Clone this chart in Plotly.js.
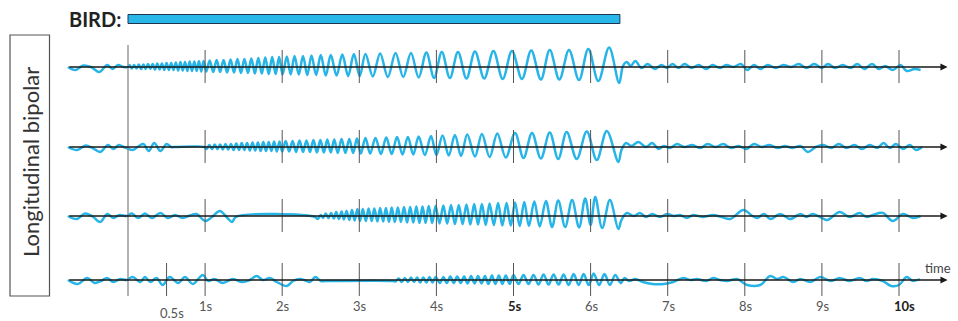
<!DOCTYPE html>
<html>
<head>
<meta charset="utf-8">
<script src="https://cdn.plot.ly/plotly-3.0.1.min.js"></script>
<style>
html,body{margin:0;padding:0;background:#ffffff;}
#chart{width:958px;height:321px;}
</style>
</head>
<body>
<div id="chart"></div>
<script>
// ---------------- DATA ----------------
// Each channel: times of the waveform's turning points (s) and the amplitude there (arbitrary units, + = up)

// Channel 1 : onset at 0 s
const row1T = [
  -0.78,-0.68,-0.58,-0.48,-0.37,-0.27,-0.2,-0.13,-0.06,0.0,
  0.02,0.05,0.08,0.11,0.14,0.17,0.2,0.23,0.26,0.29,0.32,0.35,0.38,0.41,0.44,0.47,0.5,0.53,0.56,0.59,0.62,0.65,0.68,0.71,0.74,0.77,0.8,0.83,0.86,0.89,0.92,0.95,0.98,
  1.015,1.06,1.105,1.15,1.195,1.24,1.285,1.33,1.375,1.42,1.465,1.51,1.555,1.6,1.645,1.69,1.735,1.78,1.825,1.87,1.915,1.96,2.005,
  2.06,2.11,2.16,2.215,2.27,2.325,2.38,2.44,2.5,2.565,2.63,2.705,2.78,2.855,2.93,3.005,
  3.08,3.175,3.27,3.37,3.47,3.57,3.67,3.77,3.87,3.97,
  4.07,4.175,4.28,4.39,4.5,4.62,4.74,4.86,4.98,
  5.11,5.23,5.355,5.47,5.595,5.72,5.85,5.97,6.1,6.24,6.37,
  6.42,6.47,6.52,6.58,6.66,6.74,6.83,6.92,6.99,7.06,7.14,7.22,7.31,7.4,7.5,7.58,7.68,7.76,7.85,7.95,8.03,8.12,8.2,8.3,8.4,8.5,8.6,8.7,8.8,8.9,9.0,9.08,9.17,9.27,9.37,9.46,9.55,9.65,9.74,9.82,9.92,10.02,10.1,10.2,10.28
];
const row1A = [
  0,-3,1.5,0,-5,2,-2,2,0,0,
  2,-1.5,2,-1.5,2.5,-2,2.5,-2,3,-2,3,-2.5,3.5,-2.5,3.5,-3,4,-3,4,-3,4.5,-3.5,5,-3.5,5,-4,5.5,-4,5.5,-4,6,-4.5,6,
  -4.5,6.5,-5,7,-5,7,-5.5,7.5,-5.5,8,-6,8,-6,8.5,-6.5,9,-6.5,9.5,-7,10,-7,10,-7.5,
  10.5,-7.5,11,-7.5,11,-8,11.5,-8,12,-8.5,12,-8.5,12.5,-9,13,-9,
  13,-9.5,13.5,-10,14,-10,14,-10.5,14.5,-11,
  15,-11,15,-11.5,15.5,-11.5,16,-12,16,
  -12,16.5,-12.5,17,-12.5,17,-13,18,-14,19.5,-16,
  1,5,1,6,-1,3,-2,2,-1,3,-1,3,-1,2,-2,2,-1,2,0,3,-3,2,-2,2,-1,2,0,3,-1,3,-1,3,-1,2,-1,3,-2,3,-2,1,-3,2,-4,-2,-3
];

// Channel 2 : onset at 1 s
const row2T = [
  -0.78,-0.66,-0.55,-0.46,-0.36,-0.26,-0.19,-0.12,-0.04,0.06,0.14,0.2,0.27,0.34,0.42,0.5,0.56,0.62,0.99,
  1.02,1.055,1.09,1.125,1.16,1.195,1.23,1.265,1.3,1.335,1.37,1.405,1.44,1.475,1.51,1.545,1.58,1.615,1.65,1.685,1.72,1.755,1.79,1.825,1.86,1.895,1.93,1.965,2.0,
  2.045,2.09,2.135,2.18,2.225,2.27,2.315,2.36,2.405,2.45,2.495,2.54,2.585,2.63,2.675,2.72,2.77,2.82,2.87,2.92,2.97,3.02,
  3.08,3.14,3.21,3.28,3.35,3.42,3.49,3.56,3.63,3.7,3.77,3.85,3.93,4.0,
  4.08,4.16,4.24,4.32,4.4,4.5,4.59,4.69,4.79,4.9,5.02,5.13,5.24,5.355,5.47,5.58,5.69,5.82,5.95,6.08,6.21,6.36,
  6.4,6.46,6.53,6.62,6.72,6.8,6.88,6.95,7.03,7.12,7.22,7.32,7.42,7.52,7.62,7.72,7.82,7.92,8.02,8.12,8.22,8.32,8.43,8.52,8.62,8.72,8.82,8.92,9.02,9.12,9.22,9.32,9.42,9.52,9.62,9.72,9.8,9.88,9.96,10.05,10.14,10.22,10.3
];
const row2A = [
  0,-3,1.5,-1,-5,2,-2,2,-0.5,-3,1,3,-4,4,-4,3,0,0,0,
  -2,2,-2,2.5,-2,2.5,-2.5,3,-2.5,3,-3,3.5,-3,4,-3,4,-3.5,4.5,-3.5,4.5,-4,5,-4,5,-4,5.5,-4.5,5.5,-4.5,
  6,-4.5,6,-5,6.5,-5,6.5,-5,7,-5.5,7,-5.5,7.5,-5.5,7.5,-6,8,-6,8,-6,8.5,-6.5,
  9,-6.5,9,-7,9.5,-7,10,-7.5,10,-7.5,10.5,-8,11,-8,
  11.5,-8.5,12,-9,12.5,-9.5,13,-10,13.5,-10.5,14,-11,14,-11.5,14.5,-12,15,-12,15.5,-13,16,-15,
  -3,4,1,5,0,4,-2,1,-1,3,0,2,-1,3,0,3,-1,1,-2,3,0,2,-1,1,-1,1,-5,0,2,-1,3,-1,2,-2,2,-1,4,-1,3,-2,2,-3,0
];

// Channel 3 : onset at ~2.45 s
const row3T = [
  -0.78,-0.66,-0.56,-0.46,-0.36,-0.27,-0.19,-0.11,-0.02,0.05,0.13,0.22,0.31,0.42,0.52,0.61,0.71,0.8,0.89,1.0,1.09,1.19,1.29,1.35,1.4,2.42,
  2.46,2.5,2.53,2.565,2.6,2.635,2.67,2.7,2.735,2.77,2.8,2.835,2.87,2.905,2.94,2.975,3.01,
  3.045,3.085,3.12,3.16,3.195,3.235,3.27,3.31,3.345,3.385,3.42,3.46,3.5,3.54,3.58,3.62,3.66,3.7,3.74,3.78,3.82,3.86,3.9,3.945,3.99,
  4.04,4.09,4.14,4.19,4.24,4.29,4.34,4.39,4.44,4.49,4.54,4.59,4.64,4.69,4.745,4.8,4.855,4.91,4.965,
  5.02,5.08,5.14,5.2,5.27,5.34,5.42,5.5,5.58,5.67,5.76,5.85,5.93,6.0,6.06,6.15,6.25,6.36,
  6.4,6.47,6.56,6.64,6.72,6.8,6.9,6.99,7.08,7.16,7.25,7.33,7.45,7.59,7.7,7.81,7.98,8.1,8.16,8.25,8.33,8.46,8.59,8.72,8.8,8.88,9.0,9.07,9.23,9.36,9.49,9.58,9.66,9.79,9.92,10.05,10.18,10.28
];
const row3A = [
  0,-3,2.5,-0.5,-6,2,-2,1,0,2.5,-2,2.5,-2,3,-2,1,-2,0.5,2,-5,-1,5,-2,-6,-0.8,-0.8,
  -3,1,-2,2.5,-2,3,-2.5,4,-3,4.5,-3.5,5,-4,6,-4.5,7,-5,
  7,-5,7.5,-5,7.5,-5.5,8,-5.5,8,-6,8.5,-6,8.5,-6,9,-6.5,9,-6.5,9.5,-7,9.5,-7,10,-7,10,
  -7.5,10.5,-7.5,11,-8,11,-8,11.5,-8.5,12,-8.5,12,-9,12.5,-9,13,-9.5,13,-9.5,
  13.5,-10,14,-10,14.5,-10.5,15,-11,15.5,-11,16,-11.5,17.5,-9,19,-12,16,-13,
  -4,3,0,3,-1,2,-1,2,0,1,-2,1,-1,1,-1,-3,6,0,-2,2,-3,2,-3,2,-1,2,-2,-4,4,-1,3,-1,1,3,-5,2,-2,0
];

// Channel 4 : onset at ~3.45 s
const row4T = [
  -0.78,-0.65,-0.53,-0.43,-0.35,-0.27,-0.19,-0.1,-0.02,0.06,0.16,0.22,0.29,0.37,0.45,0.54,0.65,0.74,0.84,0.97,1.04,1.12,1.23,1.36,1.48,1.58,1.67,1.75,1.84,1.93,2.06,2.14,2.23,2.3,2.36,2.43,2.5,2.56,3.44,
  3.47,3.51,3.55,3.59,3.63,3.67,3.71,3.75,3.79,3.83,3.87,3.91,3.95,3.99,
  4.045,4.09,4.135,4.18,4.225,4.27,4.315,4.36,4.405,4.45,4.495,4.54,4.585,4.63,4.675,4.72,4.765,4.81,4.855,4.9,4.95,5.0,
  5.065,5.13,5.195,5.26,5.325,5.39,5.455,5.52,5.585,5.65,5.715,5.78,5.845,5.91,5.975,6.04,6.11,6.18,6.25,6.32,6.39,
  6.44,6.5,6.58,6.68,6.8,6.95,7.07,7.2,7.3,7.38,7.5,7.59,7.68,7.77,7.9,8.03,8.2,8.33,8.42,8.5,8.63,8.72,8.85,8.98,9.11,9.23,9.36,9.49,9.58,9.66,9.79,9.9,10.0,10.1,10.18,10.27
];
const row4A = [
  0,-4,2,-3,-1,2,-2,1,0,3,-2,3,-2,2,-5,3,-3,3,-4,5,-1,1,-3,1,-2,0,4,0,2,-2,-6,-1,1,-0.5,-2,3,-1,-1,-1,
  -1.5,1.5,-2,2,-2,2.5,-2,2.5,-2.5,2.5,-2.5,3,-2.5,3,
  -3,3,-3,3.5,-3,3.5,-3,3.5,-3.5,4,-3.5,4,-3.5,4,-4,4.5,-4,4.5,-4,4.5,-4,5,
  -4,5,-4,5,-4.5,5.5,-4.5,5.5,-4.5,5.5,-5,6,-5,6,-5,6.5,-5,6,-5,5,-3,
  2,-1,1,-2,-4,-4,-2,2,0,1,-1,2,0,-1,1,-5,-5,4,1,3,-2,1,-2,3,-1,2,-1,2,-1,1,-1,-6,-5,3,-1,1
];

// Time ticks and labels
const tickTimes  = [0.5, 1, 2, 3, 4, 5, 6, 7, 8, 9, 10];
const tickLabels = ['0.5s','1s','2s','3s','4s','5s','6s','7s','8s','9s','10s'];
const boldLabels = ['5s','10s'];

// BIRD interval (s)
const birdStart = 0;
const birdEnd = 6.38;

const channelLabel = 'Longitudinal bipolar';
const birdLabel = 'BIRD:';
const axisLabel = 'time';

// ---------------- LAYOUT / STYLE ----------------
const W = 958, H = 321;
const PX_PER_S = 77.1, ZERO_PX = 128;
const xr = [-ZERO_PX / PX_PER_S, (W - ZERO_PX) / PX_PER_S];
const baseY = [67, 147, 216, 280];
const rows = [[row1T,row1A],[row2T,row2A],[row3T,row3A],[row4T,row4A]];
const sigColor = '#27b4e6';
const FONT = 'Lato, "Open Sans", sans-serif';
const lineStart = -0.78, arrowTip = 10.63;

const traces = rows.map((r, i) => ({
  type: 'scatter', mode: 'lines',
  x: r[0], y: r[1].map(a => baseY[i] - a),
  line: {color: sigColor, width: 2.5, shape: 'spline', smoothing: 1},
  hoverinfo: 'skip'
}));

const shapes = [];
// long vertical line at onset (0 s)
shapes.push({type:'line', xref:'x', yref:'y', x0:0, x1:0, y0:45, y1:296,
  line:{color:'#8a8a8a', width:1.3}, layer:'above'});
// tick marks on each channel
baseY.forEach((b, i) => {
  tickTimes.forEach(t => {
    if (t === 0.5 && i !== 3) return;
    shapes.push({type:'line', xref:'x', yref:'y', x0:t, x1:t, y0:b-17, y1:b+16,
      line:{color:'#555', width:1}, layer:'above'});
  });
});
// BIRD bar
shapes.push({type:'rect', xref:'x', yref:'y', x0:birdStart, x1:birdEnd, y0:14.5, y1:23.5,
  fillcolor:'#29b6e8', line:{color:'#1f3550', width:1}, layer:'above'});
// channel box
shapes.push({type:'rect', xref:'paper', yref:'y', x0:10/W, x1:49.5/W, y0:35, y1:296,
  line:{color:'#555', width:1.2}, fillcolor:'rgba(0,0,0,0)'});

const annotations = [];
// baselines with arrowheads
baseY.forEach(b => {
  annotations.push({x:arrowTip, y:b, ax:lineStart, ay:b, xref:'x', yref:'y', axref:'x', ayref:'y',
    text:'', showarrow:true, arrowhead:2, arrowsize:1.1, arrowwidth:1.3, arrowcolor:'#1a1a1a', standoff:0, startstandoff:0});
});
// time labels
tickTimes.forEach((t, k) => {
  const lab = tickLabels[k];
  const bold = boldLabels.indexOf(lab) >= 0;
  annotations.push({x:t, y: t === 0.5 ? 313 : 306, xref:'x', yref:'y', showarrow:false,
    xanchor:'center', yanchor:'middle',
    text: bold ? '<b>' + lab + '</b>' : lab,
    xshift: t === 0.5 ? 5 : (t === 10 ? 5 : 1),
    font:{family:FONT, size:13, color: bold ? '#222' : '#555'}});
});
annotations.push({x:arrowTip - 0.12, y:268, xref:'x', yref:'y', showarrow:false, text:axisLabel,
  xanchor:'center', yanchor:'middle',
  font:{family:FONT, size:13, color:'#444'}});
annotations.push({x:95/W, y:19, xref:'paper', yref:'y', showarrow:false, text:'<b>' + birdLabel + '</b>',
  xanchor:'center', yanchor:'middle',
  font:{family:FONT, size:20, color:'#222'}});
annotations.push({x:30/W, y:162, xref:'paper', yref:'y', showarrow:false, text:channelLabel, textangle:-90,
  xanchor:'center', yanchor:'middle',
  font:{family:FONT, size:22, color:'#333'}});

const layout = {
  width: W, height: H, autosize: false,
  margin: {l:0, r:0, t:0, b:0, pad:0},
  paper_bgcolor: '#ffffff', plot_bgcolor: '#ffffff',
  showlegend: false,
  xaxis: {range: xr, visible: false, fixedrange: true},
  yaxis: {range: [H, 0], visible: false, fixedrange: true},
  shapes: shapes,
  annotations: annotations
};

Plotly.newPlot('chart', traces, layout, {staticPlot: true, displayModeBar: false});
</script>
</body>
</html>
